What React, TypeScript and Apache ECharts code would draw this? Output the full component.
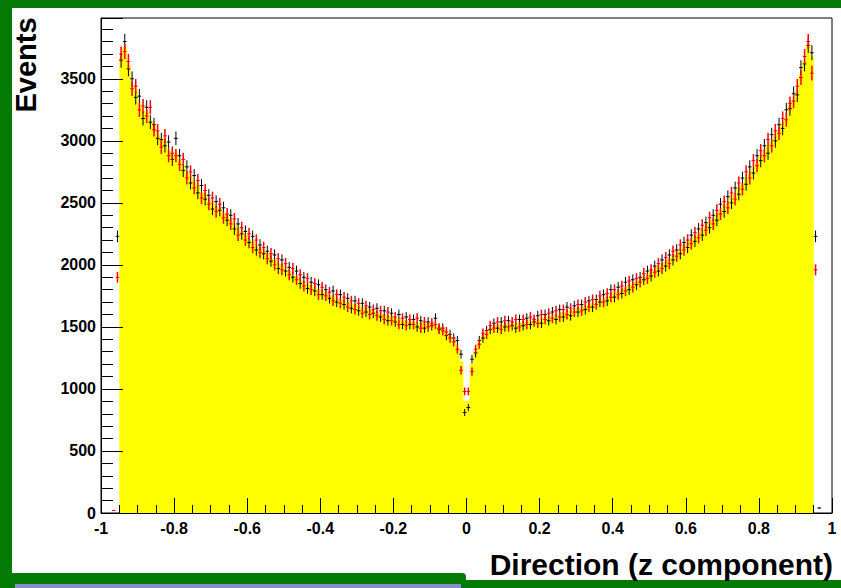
import React, { useEffect, useRef } from "react";
import * as echarts from "echarts";

// Histogram binning (bin width 0.01, first data bin centred on -0.965)
const FIRST_CENTER = -0.965;
const BIN_WIDTH = 0.01;
const HIST_START = -0.95; // left edge of the yellow histogram

// Black data points, bins -0.965 ... 0.965 (194 bins)
const blackValues: (number | null)[] = [
  null, 2230,
  3650, 3800, 3580, 3500, 3350, 3360, 3180, 3270, 3150, 3130,
  3020, 3010, 2960, 2990, 2850, 3020, 2880, 2760, 2790, 2660,
  2720, 2580, 2640, 2530, 2560, 2450, 2510, 2440, 2460, 2360,
  2400, 2290, 2330, 2250, 2270, 2180, 2230, 2120, 2160, 2090,
  2110, 2030, 2080, 1970, 2040, 1950, 1980, 1900, 1950, 1850,
  1900, 1810, 1860, 1790, 1840, 1760, 1800, 1730, 1790, 1700,
  1760, 1680, 1730, 1650, 1710, 1630, 1690, 1620, 1660, 1610,
  1650, 1580, 1630, 1550, 1610, 1540, 1600, 1520, 1580, 1520,
  1560, 1500, 1550, 1490, 1540, 1510, 1570, 1480, 1490, 1430,
  1440, 1410, 1390, 1280, 810,
  850, 1240, 1290, 1390, 1410, 1470, 1480, 1530, 1490, 1540,
  1500, 1550, 1510, 1490, 1560, 1510, 1570, 1520, 1540, 1590,
  1530, 1600, 1550, 1620, 1560, 1640, 1580, 1660, 1590, 1670,
  1620, 1680, 1640, 1710, 1660, 1720, 1700, 1760, 1710, 1800,
  1740, 1820, 1770, 1860, 1800, 1880, 1840, 1900, 1880, 1950,
  1910, 1990, 1950, 2040, 1990, 2080, 2040, 2120, 2090, 2180,
  2140, 2240, 2190, 2290, 2240, 2340, 2300, 2400, 2360, 2490,
  2430, 2550, 2500, 2620, 2570, 2700, 2650, 2790, 2740, 2880,
  2840, 2960, 2900, 3050, 3000, 3130, 3100, 3250, 3260, 3380,
  3370, 3590, 3620, 3770, 3710,
  2230, 40,
];

// Red data points, same bins
const redValues: (number | null)[] = [
  20, 1900,
  3700, 3720, 3640, 3420, 3440, 3250, 3280, 3200, 3270, 3090,
  3080, 2950, 3040, 2880, 2900, 2880, 2810, 2850, 2700, 2750,
  2620, 2680, 2540, 2600, 2490, 2540, 2430, 2490, 2380, 2410,
  2330, 2370, 2240, 2300, 2200, 2250, 2140, 2200, 2100, 2140,
  2050, 2090, 2000, 2050, 1960, 2010, 1920, 1970, 1880, 1920,
  1830, 1890, 1800, 1850, 1760, 1820, 1750, 1780, 1710, 1760,
  1690, 1740, 1660, 1710, 1640, 1690, 1610, 1670, 1600, 1640,
  1590, 1630, 1560, 1620, 1550, 1580, 1520, 1570, 1510, 1560,
  1520, 1570, 1490, 1540, 1500, 1530, 1520, 1490, 1470, 1460,
  1410, 1380, 1320, 1150, 980,
  980, 1140, 1320, 1360, 1450, 1440, 1510, 1490, 1540, 1480,
  1550, 1500, 1540, 1560, 1500, 1560, 1520, 1580, 1560, 1530,
  1600, 1560, 1610, 1570, 1630, 1580, 1640, 1600, 1650, 1620,
  1680, 1630, 1700, 1660, 1720, 1680, 1750, 1700, 1770, 1740,
  1800, 1760, 1830, 1790, 1870, 1820, 1890, 1860, 1930, 1890,
  1960, 1940, 2010, 1970, 2060, 2010, 2110, 2070, 2160, 2120,
  2200, 2170, 2260, 2220, 2320, 2280, 2380, 2330, 2440, 2410,
  2510, 2460, 2580, 2530, 2660, 2610, 2750, 2700, 2840, 2800,
  2920, 2880, 3010, 2960, 3080, 3060, 3180, 3170, 3300, 3320,
  3440, 3510, 3680, 3800, 3545,
  1960, null,
];

// Yellow filled histogram, bins -0.945 ... 0.945 (190 bins)
const histValues: number[] = [
  3660, 3750, 3610, 3440, 3400, 3290, 3240, 3230, 3160, 3120,
  3050, 3020, 2990, 2920, 2880, 2900, 2840, 2800, 2740, 2710,
  2660, 2640, 2580, 2570, 2510, 2500, 2460, 2450, 2410, 2390,
  2360, 2320, 2300, 2260, 2240, 2200, 2190, 2150, 2130, 2100,
  2090, 2050, 2040, 2010, 2000, 1960, 1950, 1910, 1900, 1870,
  1860, 1840, 1830, 1800, 1800, 1780, 1770, 1750, 1750, 1720,
  1720, 1700, 1700, 1680, 1680, 1660, 1660, 1640, 1640, 1620,
  1620, 1600, 1600, 1580, 1590, 1560, 1570, 1545, 1550, 1535,
  1540, 1520, 1535, 1515, 1525, 1510, 1520, 1500, 1480, 1450,
  1420, 1390, 1330, 1220, 900,
  900, 1200, 1300, 1370, 1420, 1450, 1485, 1500, 1515, 1505,
  1520, 1515, 1525, 1520, 1530, 1525, 1540, 1535, 1550, 1545,
  1565, 1560, 1580, 1575, 1595, 1590, 1615, 1610, 1630, 1625,
  1650, 1650, 1670, 1670, 1690, 1695, 1715, 1720, 1740, 1750,
  1770, 1780, 1800, 1810, 1830, 1845, 1865, 1875, 1900, 1915,
  1940, 1955, 1980, 1995, 2025, 2040, 2075, 2090, 2125, 2140,
  2175, 2195, 2225, 2250, 2285, 2310, 2345, 2365, 2405, 2430,
  2475, 2500, 2545, 2570, 2620, 2645, 2695, 2730, 2780, 2820,
  2870, 2910, 2960, 2990, 3040, 3080, 3140, 3180, 3280, 3330,
  3400, 3530, 3640, 3770, 3680,
];

const X_MIN = -1;
const X_MAX = 1;
const X_INTERVAL = 0.2;
const Y_MIN = 0;
const Y_MAX = 3990;
const Y_INTERVAL = 500;

const X_TITLE = "Direction (z component)";
const Y_TITLE = "Events";

const FONT = "'Liberation Sans', Arial, Helvetica, sans-serif";
const GREEN = "#037a03";

function pointData(values: (number | null)[]) {
  const out: number[][] = [];
  values.forEach((v, i) => {
    if (v === null) return;
    const x = +(FIRST_CENTER + i * BIN_WIDTH).toFixed(3);
    out.push([x, v, Math.sqrt(v)]);
  });
  return out;
}

function histData(values: number[]) {
  const out: number[][] = values.map((v, i) => [+(HIST_START + i * BIN_WIDTH).toFixed(3), v]);
  out.push([+(HIST_START + values.length * BIN_WIDTH).toFixed(3), values[values.length - 1]]);
  return out;
}

function crossRenderer(color: string, width: number) {
  return (params: any, api: any) => {
    const x = api.value(0);
    const y = api.value(1);
    const e = api.value(2);
    const c = api.coord([x, y]);
    const top = api.coord([x, y + e]);
    const bot = api.coord([x, Math.max(0, y - e)]);
    const l = api.coord([x - BIN_WIDTH / 2, y]);
    const r = api.coord([x + BIN_WIDTH / 2, y]);
    return {
      type: "group",
      children: [
        {
          type: "line",
          shape: { x1: c[0], y1: top[1], x2: c[0], y2: bot[1] },
          style: { stroke: color, lineWidth: width },
        },
        {
          type: "line",
          shape: { x1: l[0], y1: c[1], x2: r[0], y2: c[1] },
          style: { stroke: color, lineWidth: 1 },
        },
      ],
    };
  };
}

export default function App() {
  const ref = useRef<HTMLDivElement>(null);

  useEffect(() => {
    if (!ref.current) return;
    const chart = echarts.init(ref.current, null, { renderer: "svg" });
    const labelStyle = { color: "#000", fontFamily: FONT, fontWeight: "bold" as const, fontSize: 16 };
    chart.setOption({
      animation: false,
      backgroundColor: "#ffffff",
      grid: {
        left: 101,
        right: 9,
        top: 18,
        bottom: 75,
        show: true,
        borderColor: "#000",
        borderWidth: 1,
        backgroundColor: "transparent",
      },
      xAxis: {
        type: "value",
        min: X_MIN,
        max: X_MAX,
        interval: X_INTERVAL,
        z: 10,
        axisLine: { show: true, onZero: false, lineStyle: { color: "#000", width: 1 } },
        axisTick: { show: true, inside: true, length: 15, lineStyle: { color: "#000", width: 1 } },
        minorTick: { show: true, splitNumber: 4, length: 8, lineStyle: { color: "#000", width: 1 } },
        splitLine: { show: false },
        axisLabel: { ...labelStyle, margin: 7 },
      },
      yAxis: {
        type: "value",
        min: Y_MIN,
        max: Y_MAX,
        interval: Y_INTERVAL,
        z: 10,
        axisLine: { show: true, onZero: false, lineStyle: { color: "#000", width: 1 } },
        axisTick: { show: true, inside: true, length: 22, lineStyle: { color: "#000", width: 1 } },
        minorTick: { show: true, splitNumber: 5, length: 12, lineStyle: { color: "#000", width: 1 } },
        splitLine: { show: false },
        axisLabel: {
          ...labelStyle,
          margin: 5,
          showMaxLabel: false,
          formatter: (v: number) => String(v),
        },
      },
      series: [
        {
          name: "Histogram",
          type: "line",
          step: "end",
          symbol: "none",
          z: 1,
          data: histData(histValues),
          lineStyle: { color: "#ffff00", width: 1 },
          areaStyle: { color: "#ffff00", opacity: 1 },
        },
        {
          name: "Black",
          type: "custom",
          z: 3,
          renderItem: crossRenderer("#000000", 1),
          encode: { x: 0, y: 1 },
          data: pointData(blackValues),
        },
        {
          name: "Red",
          type: "custom",
          z: 4,
          renderItem: crossRenderer("#ff0000", 1.5),
          encode: { x: 0, y: 1 },
          data: pointData(redValues),
        },
      ],
      graphic: [
        { type: "rect", z: 100, shape: { x: 0, y: 0, width: 841, height: 8 }, style: { fill: GREEN } },
        { type: "rect", z: 100, shape: { x: 0, y: 0, width: 12, height: 588 }, style: { fill: GREEN } },
        { type: "rect", z: 100, shape: { x: 0, y: 573, width: 466, height: 15, r: [0, 4, 0, 0] }, style: { fill: GREEN } },
        { type: "rect", z: 101, shape: { x: 15, y: 584, width: 446, height: 4 }, style: { fill: "#8d8dc9" } },
        { type: "rect", z: 100, shape: { x: 462, y: 580, width: 379, height: 8 }, style: { fill: GREEN } },
        {
          type: "text",
          z: 100,
          x: 26,
          y: 65,
          rotation: Math.PI / 2,
          style: {
            text: Y_TITLE,
            fill: "#000",
            font: `bold 29px ${FONT}`,
            align: "center",
            verticalAlign: "middle",
          },
        },
        {
          type: "text",
          z: 100,
          x: 833,
          y: 564,
          style: {
            text: X_TITLE,
            fill: "#000",
            font: `bold 30px ${FONT}`,
            align: "right",
            verticalAlign: "middle",
          },
        },
      ],
    });
    return () => chart.dispose();
  }, []);

  return (
    <div
      ref={ref}
      style={{ position: "fixed", left: 0, top: 0, width: 841, height: 588, background: "#fff" }}
    />
  );
}
